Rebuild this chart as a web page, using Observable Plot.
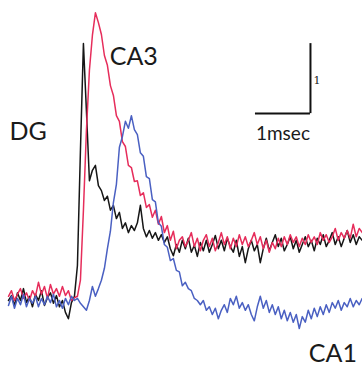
<!DOCTYPE html>
<html>
<head>
<meta charset="utf-8">
<script src="https://cdn.jsdelivr.net/npm/d3@7"></script>
<script src="https://cdn.jsdelivr.net/npm/@observablehq/plot@0.6"></script>
<style>
  html, body { margin: 0; padding: 0; background: #ffffff; }
  #chart { width: 362px; height: 370px; }
</style>
</head>
<body>
<div id="chart"></div>
<script>
// Field potentials, amplitude in scale-bar units, sampled every dt msec
const dt = 0.0545; // msec per sample
const seriesNames = ["DG", "CA3", "CA1"];
const dgValues = [
  0.00, 0.07, -0.07, 0.11, 0.00, 0.17, -0.03, 0.06, -0.09, 0.09,
  0.00, 0.14, -0.07, 0.04, 0.11, -0.04, 0.07, -0.09, 0.00, -0.17,
  -0.26, -0.03, 0.06, 0.50, 2.14, 3.67, 2.71, 1.71, 1.86, 1.93,
  1.64, 1.57, 1.43, 1.49, 1.29, 1.36, 1.17, 1.26, 1.03, 1.11,
  0.97, 1.07, 1.00, 1.11, 1.36, 1.03, 0.91, 1.00, 0.89, 0.97,
  0.86, 0.94, 0.83, 0.91, 0.74, 0.64, 0.80, 0.69, 0.86, 0.74,
  0.89, 0.69, 0.79, 0.63, 0.83, 0.71, 0.86, 0.69, 0.80, 0.93,
  0.74, 0.86, 0.71, 0.89, 0.77, 0.69, 0.86, 0.63, 0.77, 0.54,
  0.74, 0.86, 0.71, 0.80, 0.54, 0.74, 0.89, 0.71, 0.83, 0.94,
  0.77, 0.89, 0.71, 0.80, 0.91, 0.74, 0.86, 0.69, 0.80, 0.91,
  0.77, 0.86, 0.71, 0.89, 0.80, 0.94, 0.77, 0.86, 0.97, 0.80,
  0.91, 0.77, 0.89, 1.00, 0.83, 0.94, 0.80, 0.91, 0.86
];
const ca3Values = [
  0.06, 0.14, 0.00, 0.09, 0.17, 0.03, 0.11, 0.00, 0.14, 0.06,
  0.26, 0.09, 0.20, 0.03, 0.23, 0.09, 0.17, 0.06, 0.20, 0.07,
  0.14, 0.00, 0.04, 0.06, 0.29, 1.29, 2.43, 3.29, 3.79, 4.11,
  3.97, 3.80, 3.50, 3.36, 3.07, 2.93, 2.64, 2.56, 2.27, 2.20,
  1.93, 1.90, 1.70, 1.71, 1.50, 1.54, 1.33, 1.37, 1.19, 1.29,
  1.09, 1.20, 0.97, 1.07, 0.86, 0.99, 0.74, 0.86, 0.91, 0.77,
  0.86, 0.97, 0.77, 0.89, 0.71, 0.86, 0.94, 0.77, 0.89, 0.71,
  0.83, 0.97, 0.80, 0.91, 0.74, 0.89, 0.77, 0.94, 0.80, 0.91,
  0.77, 0.86, 0.97, 0.80, 0.91, 0.74, 0.86, 0.69, 0.83, 0.74,
  0.89, 0.77, 0.91, 0.80, 0.94, 0.83, 0.91, 0.77, 0.89, 0.80,
  0.94, 0.83, 0.91, 0.80, 0.97, 0.86, 0.94, 0.83, 0.91, 1.03,
  0.86, 0.97, 0.89, 1.00, 0.89, 1.09, 0.91, 1.03, 0.97
];
const ca1Values = [
  -0.07, 0.06, -0.11, 0.03, -0.06, 0.09, -0.09, 0.03, -0.04, 0.06,
  -0.09, 0.03, -0.06, 0.06, -0.03, 0.09, -0.09, 0.00, -0.11, 0.03,
  -0.06, 0.06, 0.00, 0.03, -0.04, -0.09, -0.14, 0.00, 0.20, 0.06,
  0.17, 0.29, 0.46, 0.74, 0.99, 1.40, 1.66, 2.19, 2.34, 2.56,
  2.46, 2.64, 2.44, 2.37, 2.11, 2.06, 1.77, 1.74, 1.44, 1.41,
  1.11, 1.06, 0.80, 0.76, 0.57, 0.60, 0.43, 0.41, 0.21, 0.26,
  0.17, 0.14, 0.03, 0.00, -0.06, 0.00, -0.14, -0.09, -0.20, -0.11,
  -0.26, -0.14, -0.06, -0.17, 0.03, -0.06, 0.06, -0.11, -0.03, -0.14,
  -0.06, -0.20, -0.29, -0.09, 0.06, -0.11, 0.00, -0.17, -0.06, -0.20,
  -0.09, -0.26, -0.14, -0.29, -0.17, -0.31, -0.20, -0.40, -0.23, -0.31,
  -0.14, -0.26, -0.11, -0.23, -0.09, -0.20, -0.06, -0.17, -0.03, -0.11,
  0.00, -0.14, -0.03, -0.09, 0.03, -0.09, 0.00, -0.06, 0.03
];
const seriesColors = ["#161616", "#e62d5b", "#4a60c2"];

// Scale bars: 1 msec horizontal, 1 unit vertical
const scaleBarTimeLabel = "1msec";
const scaleBarAmpLabel = "1";
const scaleBarTime = 1;
const scaleBarAmp = 1;

const allSeries = [dgValues, ca3Values, ca1Values];
const rows = [];
allSeries.forEach((vals, s) => {
  vals.forEach((v, i) => rows.push({series: seriesNames[s], t: i * dt, v}));
});

// annotation anchors (msec, units)
const barOrigin = {t: 5.49, v: 2.67};
const labels = [
  {text: "DG", t: 0.02, v: 2.29},
  {text: "CA3", t: 1.84, v: 3.36},
  {text: "CA1", t: 5.46, v: -0.88}
];

const chart = Plot.plot({
  width: 362,
  height: 370,
  margin: 0,
  x: {domain: [-0.145, 6.436], axis: null},
  y: {domain: [-1, 4.286], axis: null},
  color: {domain: seriesNames, range: seriesColors},
  style: {background: "#ffffff"},
  marks: [
    Plot.line(rows, {x: "t", y: "v", z: "series", stroke: "series", strokeWidth: 1.5, strokeLinejoin: "round"}),
    Plot.ruleY([barOrigin.v], {x1: barOrigin.t - scaleBarTime, x2: barOrigin.t, stroke: "#111", strokeWidth: 2}),
    Plot.ruleX([barOrigin.t], {y1: barOrigin.v, y2: barOrigin.v + scaleBarAmp, stroke: "#111", strokeWidth: 2}),
    Plot.text([scaleBarTimeLabel], {x: barOrigin.t - scaleBarTime / 2, y: barOrigin.v - 0.38, text: d => d, textAnchor: "middle", lineAnchor: "bottom", fontSize: 19, fontFamily: "Lato", fill: "#1a1a1a"}),
    Plot.text([scaleBarAmpLabel], {x: barOrigin.t + 0.12, y: barOrigin.v + 0.47, text: d => d, textAnchor: "middle", lineAnchor: "middle", fontSize: 11, fontFamily: "DejaVu Serif", fill: "#1a1a1a"}),
    Plot.text(labels, {x: "t", y: "v", text: "text", textAnchor: "start", lineAnchor: "bottom", fontSize: 25, fontFamily: "Lato", fill: "#1a1a1a"})
  ]
});
document.getElementById("chart").appendChild(chart);
</script>
</body>
</html>
